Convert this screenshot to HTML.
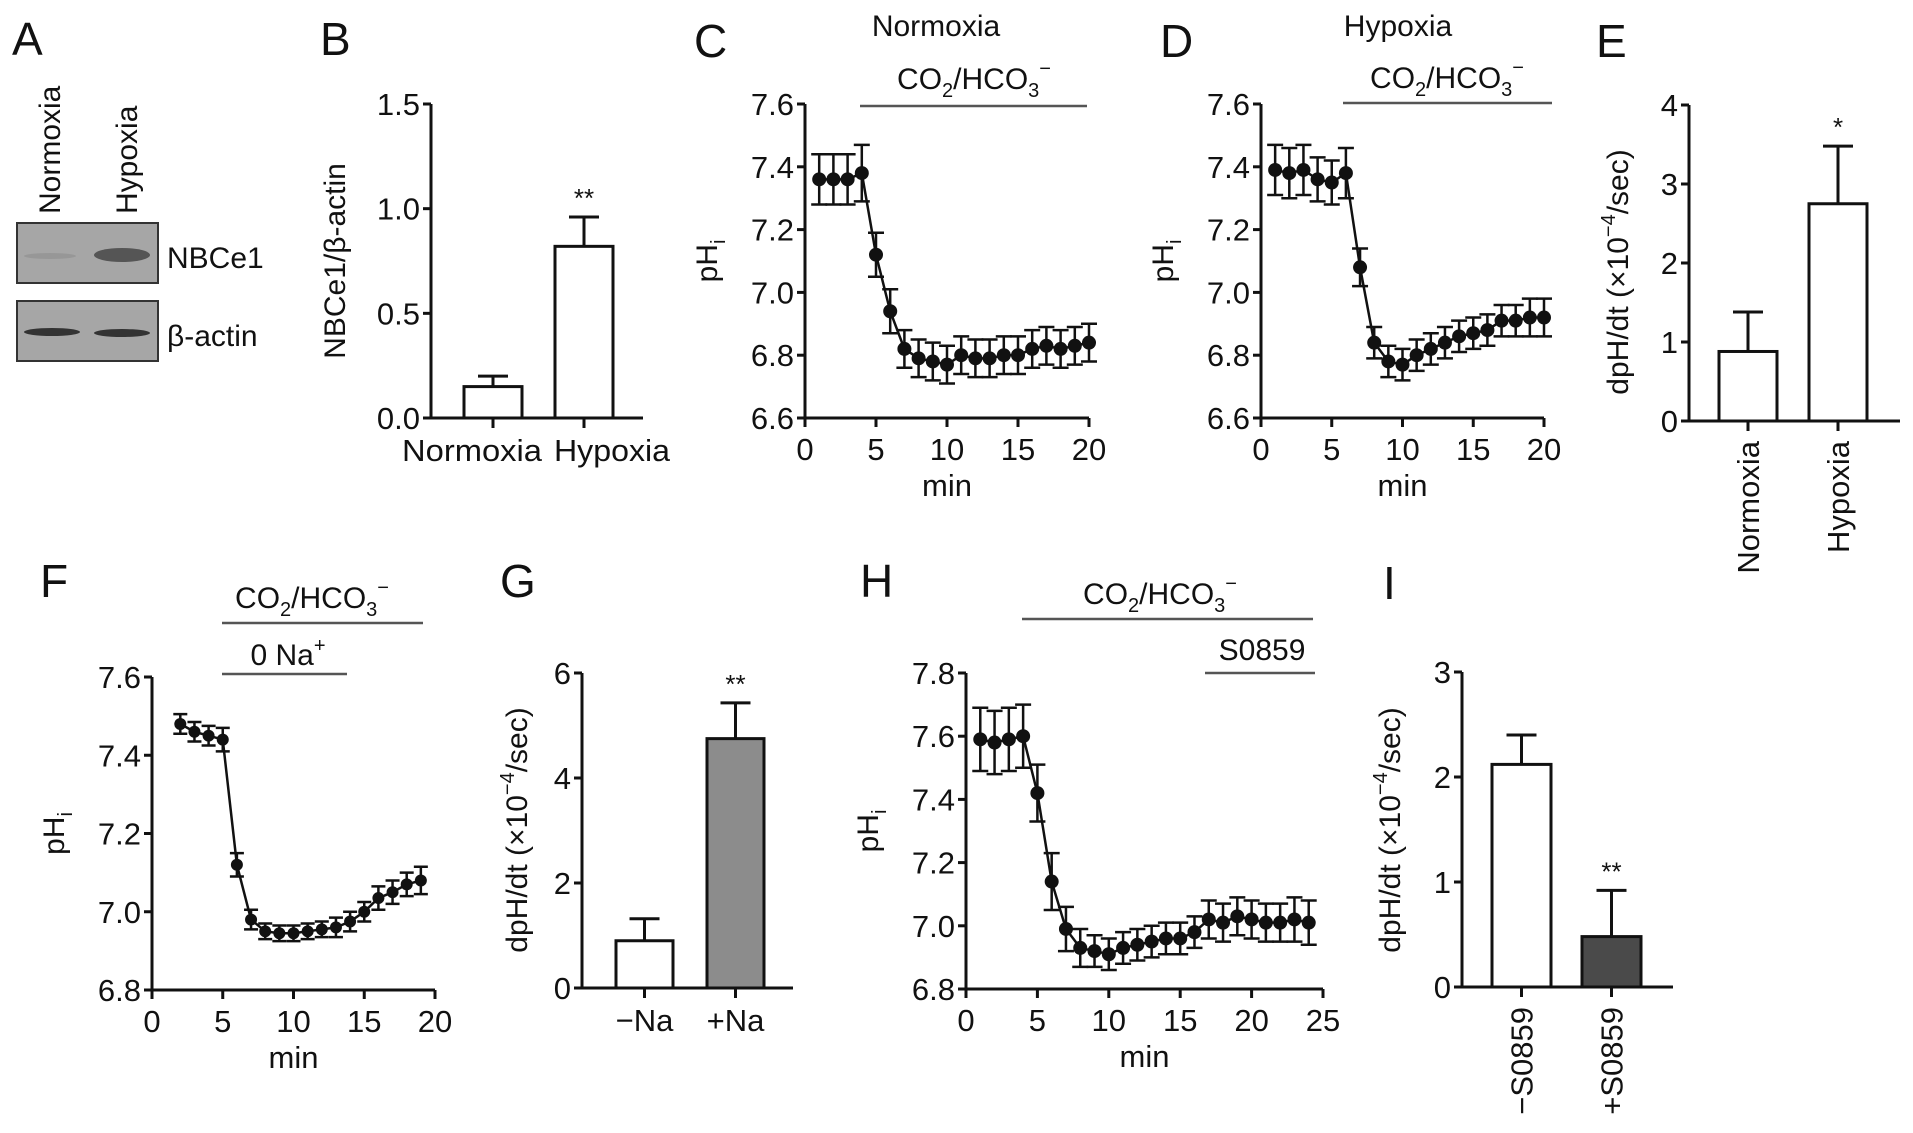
<!DOCTYPE html>
<html><head><meta charset="utf-8">
<style>
html,body{margin:0;padding:0;background:#fff;}
svg{display:block;font-family:"Liberation Sans",Arial,sans-serif;}
</style></head>
<body>
<svg id="fig" width="1913" height="1133" viewBox="0 0 1913 1133" xmlns="http://www.w3.org/2000/svg">
  <!-- Panel A western blot -->
  <g>
    <text x="12" y="55" font-size="46" fill="#111">A</text>
    <text transform="translate(60,214) rotate(-90)" font-size="30" fill="#111">Normoxia</text>
    <text transform="translate(137,214) rotate(-90)" font-size="30" fill="#111">Hypoxia</text>
    <rect x="17" y="223" width="141" height="60" fill="#a6a6a6" stroke="#333" stroke-width="2"/>
    <ellipse cx="50" cy="256" rx="26" ry="3" fill="#979797"/>
    <ellipse cx="122" cy="255" rx="28" ry="7" fill="#555"/>
    <rect x="17" y="301" width="141" height="60" fill="#a6a6a6" stroke="#333" stroke-width="2"/>
    <ellipse cx="52" cy="332" rx="28" ry="4" fill="#333"/>
    <ellipse cx="122" cy="333" rx="28" ry="4" fill="#333"/>
    <text x="167" y="268" font-size="30" fill="#111">NBCe1</text>
    <text x="167" y="346" font-size="30" fill="#111">β-actin</text>
  </g>
  <g id="charts"></g>
</svg>
<script>
// ---------- data ----------
// B
const bCategories = ["Normoxia","Hypoxia"];
const bValues = [0.15, 0.82];
const bErrors = [0.05, 0.14];
const bTicks = ["0.0","0.5","1.0","1.5"];
// C
const cMinutes = [1,2,3,4,5,6,7,8,9,10,11,12,13,14,15,16,17,18,19,20];
const cPH = [7.36,7.36,7.36,7.38,7.12,6.94,6.82,6.79,6.78,6.77,6.80,6.79,6.79,6.80,6.80,6.82,6.83,6.82,6.83,6.84];
const cErr = [0.08,0.08,0.08,0.09,0.07,0.07,0.06,0.06,0.06,0.06,0.06,0.06,0.06,0.06,0.06,0.06,0.06,0.06,0.06,0.06];
const cYTicks = ["6.6","6.8","7.0","7.2","7.4","7.6"];
const cXTicks = ["0","5","10","15","20"];
// D
const dMinutes = [1,2,3,4,5,6,7,8,9,10,11,12,13,14,15,16,17,18,19,20];
const dPH = [7.39,7.38,7.39,7.36,7.35,7.38,7.08,6.84,6.78,6.77,6.80,6.82,6.84,6.86,6.87,6.88,6.91,6.91,6.92,6.92];
const dErr = [0.08,0.08,0.08,0.07,0.07,0.08,0.06,0.05,0.05,0.05,0.05,0.05,0.05,0.05,0.05,0.05,0.05,0.05,0.06,0.06];
const dYTicks = ["6.6","6.8","7.0","7.2","7.4","7.6"];
const dXTicks = ["0","5","10","15","20"];
// E
const eCategories = ["Normoxia","Hypoxia"];
const eValues = [0.88, 2.75];
const eErrors = [0.5, 0.73];
const eTicks = ["0","1","2","3","4"];
// F
const fMinutes = [2,3,4,5,6,7,8,9,10,11,12,13,14,15,16,17,18,19];
const fPH = [7.48,7.46,7.45,7.44,7.12,6.98,6.95,6.945,6.945,6.95,6.955,6.96,6.975,7.00,7.035,7.05,7.07,7.08];
const fErr = [0.025,0.025,0.025,0.03,0.03,0.025,0.02,0.02,0.02,0.02,0.02,0.025,0.025,0.025,0.03,0.03,0.03,0.035];
const fYTicks = ["6.8","7.0","7.2","7.4","7.6"];
const fXTicks = ["0","5","10","15","20"];
// G
const gCategories = ["\u2212Na","+Na"];
const gValues = [0.9, 4.75];
const gErrors = [0.42, 0.68];
const gTicks = ["0","2","4","6"];
// H
const hMinutes = [1,2,3,4,5,6,7,8,9,10,11,12,13,14,15,16,17,18,19,20,21,22,23,24];
const hPH = [7.59,7.58,7.59,7.60,7.42,7.14,6.99,6.93,6.92,6.91,6.93,6.94,6.95,6.96,6.96,6.98,7.02,7.01,7.03,7.02,7.01,7.01,7.02,7.01];
const hErr = [0.1,0.1,0.1,0.1,0.09,0.09,0.07,0.06,0.05,0.05,0.05,0.05,0.05,0.05,0.05,0.05,0.06,0.06,0.06,0.06,0.06,0.06,0.07,0.07];
const hYTicks = ["6.8","7.0","7.2","7.4","7.6","7.8"];
const hXTicks = ["0","5","10","15","20","25"];
// I
const iCategories = ["\u2212S0859","+S0859"];
const iValues = [2.12, 0.48];
const iErrors = [0.28, 0.44];
const iTicks = ["0","1","2","3"];

// ---------- drawing ----------
const NS = "http://www.w3.org/2000/svg";
const root = document.getElementById("charts");
function mk(tag, attrs, parent){
  const e = document.createElementNS(NS, tag);
  for (const k in attrs) e.setAttribute(k, attrs[k]);
  (parent||root).appendChild(e);
  return e;
}
function txt(x,y,s,size,anchor,parent){
  const t = mk("text",{x:x,y:y,"font-size":size,"text-anchor":anchor||"start",fill:"#111"},parent);
  t.textContent = s;
  return t;
}
function linScale(d0,d1,r0,r1){ return v => r0 + (v-d0)/(d1-d0)*(r1-r0); }

function yAxis(g, x, yS, ticks, fs){
  const vals = ticks.map(Number);
  const ln = mk("line",{x1:x,x2:x,y1:yS(vals[vals.length-1]),y2:yS(vals[0]),stroke:"#111","stroke-width":3},g);
  
  
  ticks.forEach((t,i)=>{
    const y = yS(vals[i]);
    mk("line",{x1:x-8,x2:x,y1:y,y2:y,stroke:"#111","stroke-width":3},g);
    const tl = txt(x-11,y+11,t,fs,"end",g);
    
    
  });
}
function xAxisNum(g, y, xS, ticks, fs){
  const vals = ticks.map(Number);
  const ln = mk("line",{x1:xS(vals[0]),x2:xS(vals[vals.length-1]),y1:y,y2:y,stroke:"#111","stroke-width":3},g);
  
  
  ticks.forEach((t,i)=>{
    const x = xS(vals[i]);
    mk("line",{x1:x,x2:x,y1:y,y2:y+9,stroke:"#111","stroke-width":3},g);
    const tl = txt(x,y+42,t,fs,"middle",g);
    
    
  });
}
function phLabel(g, x, y){
  const t = mk("text",{transform:`translate(${x},${y}) rotate(-90)`,"font-size":30,"text-anchor":"middle",fill:"#111"},g);
  
  
  t.innerHTML = 'pH<tspan font-size="20" dy="8">i</tspan>';
}
function rateLabel(g, x, y){
  const t = mk("text",{transform:`translate(${x},${y}) rotate(-90)`,"font-size":30,"text-anchor":"middle",fill:"#111"},g);
  
  
  t.innerHTML = 'dpH/dt (×10<tspan font-size="20" dy="-13">−4</tspan><tspan dy="13">/sec)</tspan>';
}
function co2(g, cx, y){
  const t = mk("text",{x:cx,y:y,"font-size":30,"text-anchor":"middle",fill:"#111"},g);
  
  
  t.innerHTML = 'CO<tspan font-size="20" dy="8">2</tspan><tspan dy="-8">/HCO</tspan><tspan font-size="20" dy="8">3</tspan><tspan font-size="20" dy="-22">−</tspan>';
}
function hbar(g,x1,x2,y,name){
  const l = mk("line",{x1:x1,x2:x2,y1:y,y2:y,stroke:"#555","stroke-width":2.5},g);
  
  
}
function letter(g,x,y,s){
  const t = txt(x,y,s,46,"start",g);
  
  
}

function lineChart(opt){
  const g = mk("g",{});
  
  
  const yv = opt.yTicks.map(Number), xv = opt.xTicks.map(Number);
  const yS = linScale(yv[0], yv[yv.length-1], opt.y0, opt.y1);
  const xS = linScale(xv[0], xv[xv.length-1], opt.x0, opt.x1);
  yAxis(g, opt.x0, yS, opt.yTicks, 31);
  xAxisNum(g, opt.y0, xS, opt.xTicks, 31);
  const pts = opt.xs.map((m,i)=>xS(m)+","+yS(opt.ys[i])).join(" ");
  const pl = mk("polyline",{points:pts,fill:"none",stroke:"#111","stroke-width":2.5},g);
  
  
  opt.xs.forEach((m,i)=>{
    const x = xS(m), y = yS(opt.ys[i]), yt = yS(opt.ys[i]+opt.err[i]), yb = yS(opt.ys[i]-opt.err[i]);
    const eb = mk("path",{d:`M${x},${yt}V${yb}M${x-opt.cap},${yt}H${x+opt.cap}M${x-opt.cap},${yb}H${x+opt.cap}`,stroke:"#111","stroke-width":2.5,fill:"none"},g);
    
    
    const c = mk("circle",{cx:x,cy:y,r:opt.r,fill:"#111"},g);
    
    
  });
  const mt = txt((opt.x0+opt.x1)/2, opt.y0+78, "min", 31, "middle", g);
  
  
  phLabel(g, opt.x0-88, (opt.y0+opt.y1)/2);
  return g;
}

function barChart(opt){
  const g = mk("g",{});
  
  
  const tv = opt.ticks.map(Number);
  const yS = linScale(tv[0], tv[tv.length-1], opt.y0, opt.y1);
  yAxis(g, opt.x0, yS, opt.ticks, 31);
  const ax = mk("line",{x1:opt.x0,x2:opt.xEnd,y1:opt.y0,y2:opt.y0,stroke:"#111","stroke-width":3},g);
  
  
  opt.values.forEach((v,i)=>{
    const bx = opt.barX[i], w = opt.barW, cx = bx + w/2;
    const top = yS(v), et = yS(v+opt.errors[i]);
    const eb = mk("path",{d:`M${cx},${top}V${et}M${cx-15},${et}H${cx+15}`,stroke:"#111","stroke-width":3,fill:"none"},g);
    
    
    const r = mk("rect",{x:bx,y:top,width:w,height:opt.y0-top,fill:opt.fills[i],stroke:"#111","stroke-width":3},g);
    
    
    mk("line",{x1:cx,x2:cx,y1:opt.y0,y2:opt.y0+10,stroke:"#111","stroke-width":3},g);
    if (opt.rotate){
      const t = mk("text",{transform:`translate(${cx+11},${opt.y0+20}) rotate(-90)`,"font-size":31,"text-anchor":"end",fill:"#111"},g);
      t.textContent = opt.categories[i];
      
      
    } else {
      const lx = cx + (opt.labelShift ? opt.labelShift[i] : 0);
      const t = txt(lx, opt.y0+43, opt.categories[i], 31, "middle", g);
      if (opt.labelLen) { t.setAttribute("textLength", opt.labelLen[i]); t.setAttribute("lengthAdjust","spacingAndGlyphs"); }
      
      
    }
    if (opt.stars[i]){
      const s = txt(cx, et-10, opt.stars[i], 26, "middle", g);
      
      
    }
  });
  return g;
}

// B
let g = barChart({name:"panel-b-bar-chart",x0:431,xEnd:643,y0:418,y1:104,ticks:bTicks,values:bValues,errors:bErrors,categories:bCategories,barX:[464,555],barW:58,fills:["#fff","#fff"],stars:["","**"],rotate:false,labelLen:[140,116],labelShift:[-21,28]});
letter(g,320,55,"B");
let yl = mk("text",{transform:"translate(345,261) rotate(-90)","font-size":30,"text-anchor":"middle",fill:"#111"},g);
yl.textContent = "NBCe1/β-actin";



// C
g = lineChart({name:"panel-c-normoxia-ph",x0:805,x1:1089,y0:418,y1:104,yTicks:cYTicks,xTicks:cXTicks,xs:cMinutes,ys:cPH,err:cErr,cap:8,r:7});
letter(g,694,57,"C");
let tt = txt(936,36,"Normoxia",30,"middle",g);


co2(g,974,89);
hbar(g,860,1087,106,'co2-period-bar');

// D
g = lineChart({name:"panel-d-hypoxia-ph",x0:1261,x1:1544,y0:418,y1:104,yTicks:dYTicks,xTicks:dXTicks,xs:dMinutes,ys:dPH,err:dErr,cap:8,r:7});
letter(g,1160,57,"D");
tt = txt(1398,36,"Hypoxia",30,"middle",g);


co2(g,1447,88);
hbar(g,1343,1552,103,'co2-period-bar');

// E
g = barChart({name:"panel-e-bar-chart",x0:1689,xEnd:1900,y0:421,y1:105,ticks:eTicks,values:eValues,errors:eErrors,categories:eCategories,barX:[1719,1809],barW:58,fills:["#fff","#fff"],stars:["","*"],rotate:true});
letter(g,1596,57,"E");
rateLabel(g,1628,272);

// F
g = lineChart({name:"panel-f-zero-na-ph",x0:152,x1:435,y0:990,y1:677,yTicks:fYTicks,xTicks:fXTicks,xs:fMinutes,ys:fPH,err:fErr,cap:7,r:6});
letter(g,40,597,"F");
co2(g,312,608);
hbar(g,222,423,623,'co2-period-bar');
tt = mk("text",{x:288,y:665,"font-size":30,"text-anchor":"middle",fill:"#111"},g);
tt.innerHTML = '0 Na<tspan font-size="20" dy="-13">+</tspan>';


hbar(g,222,347,674,'zero-na-period-bar');

// G
g = barChart({name:"panel-g-bar-chart",x0:582,xEnd:793,y0:988,y1:673,ticks:gTicks,values:gValues,errors:gErrors,categories:gCategories,barX:[616,707],barW:57,fills:["#fff","#8c8c8c"],stars:["","**"],rotate:false});
letter(g,500,597,"G");
rateLabel(g,527,830);

// H
g = lineChart({name:"panel-h-s0859-ph",x0:966,x1:1323,y0:989,y1:673,yTicks:hYTicks,xTicks:hXTicks,xs:hMinutes,ys:hPH,err:hErr,cap:8,r:7});
letter(g,860,597,"H");
co2(g,1160,604);
hbar(g,1022,1313,619,'co2-period-bar');
tt = txt(1262,660,"S0859",30,"middle",g);


hbar(g,1205,1315,673,'s0859-period-bar');

// I
g = barChart({name:"panel-i-bar-chart",x0:1462,xEnd:1673,y0:987,y1:672,ticks:iTicks,values:iValues,errors:iErrors,categories:iCategories,barX:[1492,1582],barW:59,fills:["#fff","#4a4a4a"],stars:["","**"],rotate:true});
letter(g,1383,599,"I");
rateLabel(g,1400,830);
</script>
</body></html>
